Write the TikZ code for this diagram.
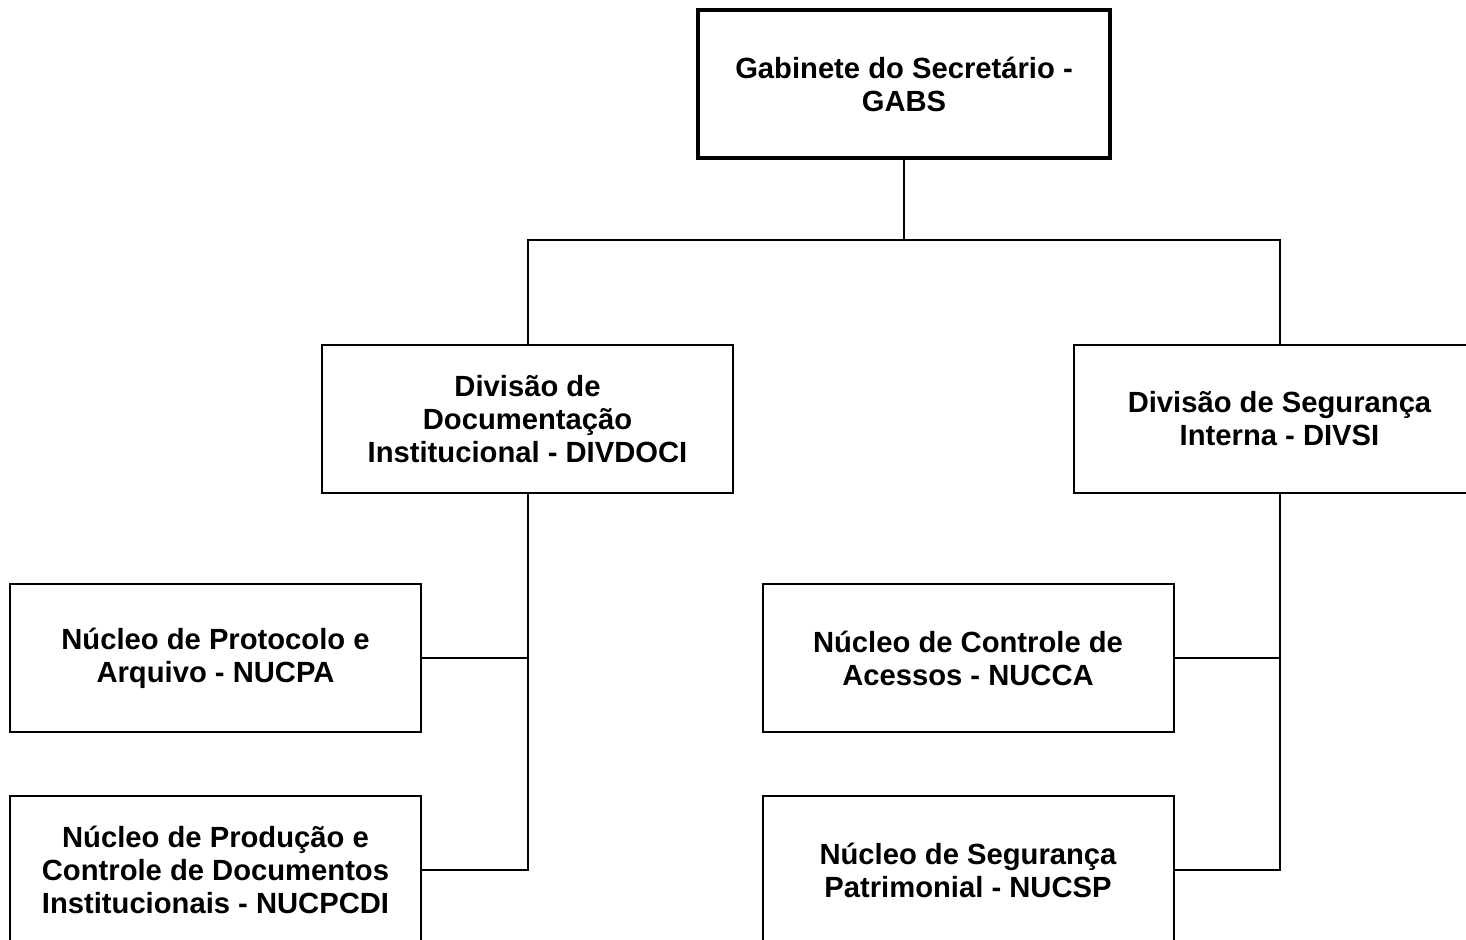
\documentclass[tikz,border=0pt]{standalone}
\usepackage{fontspec}
\setmainfont{Liberation Sans}
\begin{document}
\begin{tikzpicture}[x=0.5pt,y=-0.5pt,
  unitbox/.style={draw, line width=1pt, fill=white, minimum width=205.5pt, minimum height=74pt,
    inner sep=0pt, align=center, font=\fontsize{14.6pt}{16.5pt}\selectfont\bfseries},
  topbox/.style={unitbox, line width=1.8pt, minimum width=206pt},
  conn/.style={line width=1pt}]
\useasboundingbox (0,0) rectangle (1466,940);
\node[topbox] (gabs) at (904,84) {Gabinete do Secretário -\\GABS};
\node[unitbox] (divdoci) at (527.5,419) {Divisão de\\Documentação\\Institucional - DIVDOCI};
\node[unitbox] (divsi) at (1279.5,419) {Divisão de Segurança\\Interna - DIVSI};
\node[unitbox] (nucpa) at (215.5,658) {Núcleo de Protocolo e\\Arquivo - NUCPA};
\node[unitbox] (nucca) at (968,658) {Núcleo de Controle de\\Acessos - NUCCA};
\node[unitbox] (nucpcdi) at (215.5,870) {Núcleo de Produção e\\Controle de Documentos\\Institucionais - NUCPCDI};
\node[unitbox] (nucsp) at (968,870) {Núcleo de Segurança\\Patrimonial - NUCSP};
\coordinate (bus) at (904,240);
\draw[conn] (gabs.south) -- (bus);
\draw[conn] (divdoci.north) |- (bus) -| (divsi.north);
\draw[conn] (divdoci.south) |- (nucpcdi.east);
\draw[conn] (nucpa.east) -| (divdoci.south);
\draw[conn] (divsi.south) |- (nucsp.east);
\draw[conn] (nucca.east) -| (divsi.south);
\end{tikzpicture}
\end{document}
